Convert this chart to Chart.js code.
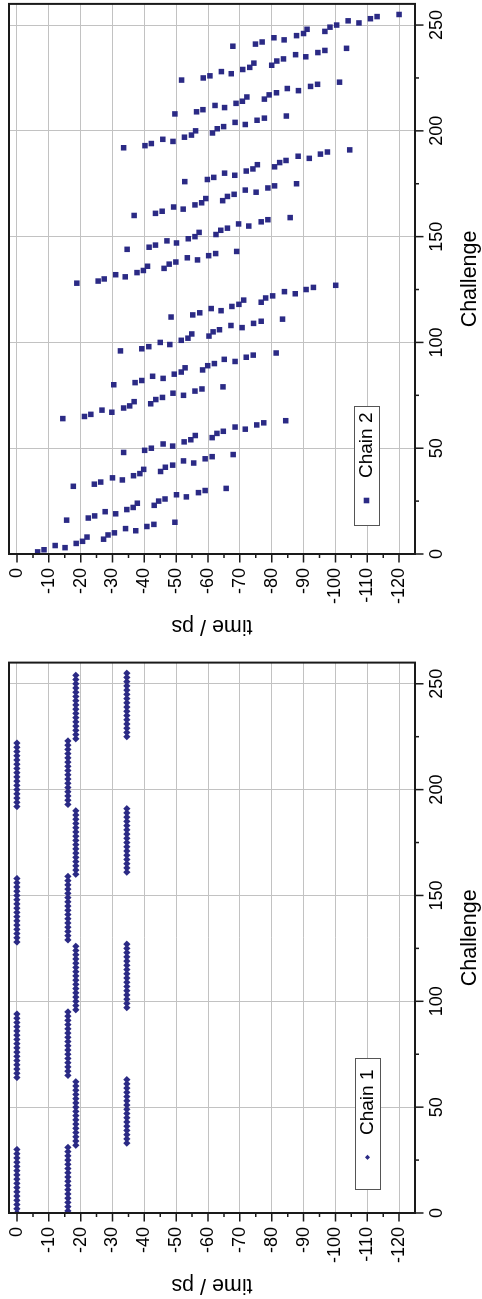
<!DOCTYPE html>
<html>
<head>
<title>Chain timing</title>
<style>
body {
    margin: 0;
    width: 482px;
    height: 1299px;
    overflow: hidden;
    background: #fff;
}
/* each panel is drawn landscape, then turned a quarter turn */
.panel {
    position: absolute;
    left: 0;
    width: 640px;
    height: 482px;
    transform-origin: 0 0;
    transform: rotate(-90deg);
}
.panel canvas {
    width: 640px;
    height: 482px;
}
</style>
</head>
<body>
<script src="https://cdn.jsdelivr.net/npm/chart.js"></script>

<div class="panel" style="top:640px"><canvas id="chain2Chart" width="640" height="482"></canvas></div>
<div class="panel" style="top:1299px"><canvas id="chain1Chart" width="640" height="482"></canvas></div>

<script>
// tick labels
const challengeTicks = [0, 50, 100, 150, 200, 250];
const timeTicks = [0, -10, -20, -30, -40, -50, -60, -70, -80, -90, -100, -110, -120];

// challenge number 0..255
const challenges = [];
for (let c = 0; c < 256; c++) challenges.push(c);

// chain 1: arrival time (ps) per challenge, one row per 32 challenges
const chain1Time = [
    0, -16, 0, -16, 0, -16, 0, -16, 0, -16, 0, -16, 0, -16, 0, -16, 0, -16, 0, -16, 0, -16, 0, -16, 0, -16, 0, -16, 0, -16, 0, -16,
    -18.5, -34.5, -18.5, -34.5, -18.5, -34.5, -18.5, -34.5, -18.5, -34.5, -18.5, -34.5, -18.5, -34.5, -18.5, -34.5, -18.5, -34.5, -18.5, -34.5, -18.5, -34.5, -18.5, -34.5, -18.5, -34.5, -18.5, -34.5, -18.5, -34.5, -18.5, -34.5,
    0, -16, 0, -16, 0, -16, 0, -16, 0, -16, 0, -16, 0, -16, 0, -16, 0, -16, 0, -16, 0, -16, 0, -16, 0, -16, 0, -16, 0, -16, 0, -16,
    -18.5, -34.5, -18.5, -34.5, -18.5, -34.5, -18.5, -34.5, -18.5, -34.5, -18.5, -34.5, -18.5, -34.5, -18.5, -34.5, -18.5, -34.5, -18.5, -34.5, -18.5, -34.5, -18.5, -34.5, -18.5, -34.5, -18.5, -34.5, -18.5, -34.5, -18.5, -34.5,
    0, -16, 0, -16, 0, -16, 0, -16, 0, -16, 0, -16, 0, -16, 0, -16, 0, -16, 0, -16, 0, -16, 0, -16, 0, -16, 0, -16, 0, -16, 0, -16,
    -18.5, -34.5, -18.5, -34.5, -18.5, -34.5, -18.5, -34.5, -18.5, -34.5, -18.5, -34.5, -18.5, -34.5, -18.5, -34.5, -18.5, -34.5, -18.5, -34.5, -18.5, -34.5, -18.5, -34.5, -18.5, -34.5, -18.5, -34.5, -18.5, -34.5, -18.5, -34.5,
    0, -16, 0, -16, 0, -16, 0, -16, 0, -16, 0, -16, 0, -16, 0, -16, 0, -16, 0, -16, 0, -16, 0, -16, 0, -16, 0, -16, 0, -16, 0, -16,
    -18.5, -34.5, -18.5, -34.5, -18.5, -34.5, -18.5, -34.5, -18.5, -34.5, -18.5, -34.5, -18.5, -34.5, -18.5, -34.5, -18.5, -34.5, -18.5, -34.5, -18.5, -34.5, -18.5, -34.5, -18.5, -34.5, -18.5, -34.5, -18.5, -34.5, -18.5, -34.5
];

// chain 2: arrival time (ps) per challenge, one row per 16 challenges (challenge 0 not recorded)
const chain2Time = [
    null, -6.5, -8.5, -15.1, -12.0, -18.6, -20.6, -27.2, -22.0, -28.6, -30.6, -37.3, -34.1, -40.8, -43.0, -49.6,
    -15.6, -22.4, -24.4, -31.0, -27.7, -34.5, -36.5, -43.1, -37.8, -44.5, -46.5, -53.2, -50.1, -57.0, -59.1, -65.7,
    -17.7, -24.3, -26.3, -33.1, -30.0, -36.6, -38.6, -45.1, -39.8, -46.6, -48.9, -55.5, -52.3, -59.1, -61.3, -67.9,
    -33.5, -40.1, -42.2, -48.9, -45.9, -52.5, -54.6, -61.3, -56.0, -62.8, -64.8, -71.7, -68.5, -75.3, -77.5, -84.4,
    -14.4, -21.2, -23.2, -29.8, -26.7, -33.5, -35.4, -42.0, -36.8, -43.6, -45.7, -52.3, -49.0, -55.9, -58.1, -64.7,
    -30.4, -37.1, -39.2, -45.9, -42.6, -49.4, -51.6, -58.3, -52.8, -59.9, -62.0, -68.5, -65.1, -72.0, -74.2, -81.4,
    -32.5, -39.2, -41.4, -48.0, -45.0, -51.6, -53.7, -60.3, -54.9, -61.6, -63.6, -70.7, -67.2, -74.3, -76.7, -83.4,
    -48.4, -55.2, -57.4, -64.1, -61.0, -67.5, -69.7, -76.7, -71.2, -78.1, -80.3, -87.4, -84.0, -90.8, -93.1, -100.1,
    -18.8, -25.5, -27.4, -34.0, -31.0, -37.7, -39.7, -46.2, -41.0, -47.8, -49.9, -56.7, -53.5, -60.2, -62.4, -69.0,
    -34.6, -41.5, -43.5, -50.1, -47.1, -53.8, -55.9, -62.5, -57.2, -64.0, -66.1, -72.8, -69.6, -76.7, -78.8, -85.8,
    -36.8, -43.5, -45.6, -52.2, -49.2, -55.9, -58.0, -64.6, -59.3, -66.1, -68.2, -75.1, -71.7, -78.8, -80.9, -87.8,
    -52.7, -59.8, -61.8, -68.4, -65.2, -72.0, -74.1, -80.9, -75.5, -82.5, -84.5, -91.8, -88.3, -95.3, -97.5, -104.5,
    -33.5, -40.2, -42.2, -49.0, -45.8, -52.6, -54.8, -61.4, -56.1, -62.9, -64.9, -71.7, -68.5, -75.4, -77.7, -84.6,
    -49.6, -56.4, -58.4, -65.2, -62.2, -68.8, -70.8, -77.7, -72.2, -79.2, -81.5, -88.4, -84.9, -92.2, -94.4, -101.3,
    -51.7, -58.5, -60.6, -67.3, -64.2, -70.9, -73.1, -80.0, -74.4, -81.6, -83.7, -90.7, -87.5, -94.5, -96.7, -103.5,
    -67.8, -74.9, -77.0, -83.9, -80.7, -87.8, -90.0, -96.7, -91.1, -98.3, -100.4, -107.4, -104.0, -111.0, -113.1, -120.0
];

const FONT = '"Liberation Sans", Arial, Helvetica, sans-serif';
const MARK = '#2b2a85';
const GRID = '#c2c2c2';

Chart.defaults.font.family = FONT;
Chart.defaults.color = '#000';

function points(times) {
    const out = [];
    times.forEach((t, i) => {
        if (t !== null) out.push({ x: challenges[i], y: t });
    });
    return out;
}

// labelled ticks plus one unlabelled tick half way to the next one
function withMinor(labels, half, last) {
    const vals = [];
    labels.forEach(v => {
        vals.push(v);
        if (v + half !== last + half && Math.abs(v + half) <= Math.abs(last)) vals.push(v + half);
    });
    return vals.sort((a, b) => a - b).map(v => ({ value: v }));
}

// outward tick marks (long on labelled ticks, short in between) and the black frame
const frameTicks = {
    id: 'frameTicks',
    afterDraw(chart) {
        const ctx = chart.ctx, a = chart.chartArea;
        const xs = chart.scales.x, ys = chart.scales.y;
        ctx.save();
        ctx.strokeStyle = '#1a1a1a';
        ctx.lineWidth = 1.5;
        ctx.beginPath();
        xs.ticks.forEach(t => {
            const len = challengeTicks.includes(t.value) ? 8.5 : 4;
            const px = xs.getPixelForValue(t.value);
            ctx.moveTo(px, a.bottom);
            ctx.lineTo(px, a.bottom + len);
        });
        ys.ticks.forEach(t => {
            const len = timeTicks.includes(t.value) ? 8.5 : 4;
            const py = ys.getPixelForValue(t.value);
            ctx.moveTo(a.left, py);
            ctx.lineTo(a.left - len, py);
        });
        ctx.stroke();
        ctx.lineWidth = 2;
        ctx.strokeRect(a.left, a.top, a.right - a.left, a.bottom - a.top);
        ctx.restore();
    }
};

// boxed legend sitting inside the plot
const boxLegend = {
    id: 'boxLegend',
    afterDatasetsDraw(chart, args, o) {
        const ctx = chart.ctx, a = chart.chartArea;
        const ds = chart.data.datasets[0];
        const x = a.left + o.left;
        const y = a.bottom - o.bottom - o.height;
        const cy = y + o.height / 2;
        ctx.save();
        ctx.fillStyle = '#fff';
        ctx.fillRect(x, y, o.width, o.height);
        ctx.strokeStyle = '#555';
        ctx.lineWidth = 1;
        ctx.strokeRect(x + 0.5, y + 0.5, o.width, o.height);
        ctx.fillStyle = ds.pointBackgroundColor;
        const mx = x + o.markerX, r = o.markerSize;
        ctx.beginPath();
        if (ds.pointStyle === 'rectRot') {
            ctx.moveTo(mx - r, cy);
            ctx.lineTo(mx, cy - r);
            ctx.lineTo(mx + r, cy);
            ctx.lineTo(mx, cy + r);
            ctx.closePath();
        } else {
            ctx.rect(mx - r, cy - r, 2 * r, 2 * r);
        }
        ctx.fill();
        ctx.fillStyle = '#000';
        ctx.font = '19px ' + FONT;
        ctx.textBaseline = 'middle';
        ctx.textAlign = 'left';
        ctx.fillText(ds.label, x + o.textX, cy + 0.5);
        ctx.restore();
    }
};

function zeroPad(scale) {
    scale.paddingLeft = 0;
    scale.paddingRight = 0;
    scale.paddingTop = 0;
    scale.paddingBottom = 0;
}

function makeChart(id, label, times, style, radius, legendBox) {
    return new Chart(document.getElementById(id), {
        type: 'scatter',
        data: {
            datasets: [{
                label: label,
                data: points(times),
                pointStyle: style,
                pointRadius: radius,
                pointHoverRadius: radius,
                pointBackgroundColor: MARK,
                pointBorderWidth: 0,
                clip: 0
            }]
        },
        plugins: [boxLegend, frameTicks],
        options: {
            responsive: false,
            devicePixelRatio: 1,
            animation: false,
            events: [],
            layout: { padding: { top: 9, right: 3, left: 0, bottom: 0 } },
            plugins: {
                legend: { display: false },
                tooltip: { enabled: false },
                boxLegend: legendBox
            },
            scales: {
                x: {
                    type: 'linear',
                    min: 0,
                    max: 260,
                    border: { display: false },
                    grid: {
                        drawTicks: false,
                        color: c => (c.tick && c.tick.value > 0 && challengeTicks.includes(c.tick.value)) ? GRID : 'rgba(0,0,0,0)',
                        lineWidth: 1
                    },
                    ticks: {
                        autoSkip: false,
                        maxRotation: 0,
                        padding: 11,
                        font: { size: 18 },
                        callback: v => challengeTicks.includes(v) ? String(v) : ''
                    },
                    afterBuildTicks: s => { s.ticks = withMinor(challengeTicks, 25, 250); },
                    title: {
                        display: true,
                        text: 'Challenge',
                        font: { size: 21.5, lineHeight: 1.1 },
                        padding: { top: 0, bottom: 0 }
                    },
                    afterFit: s => { s.height = 67; zeroPad(s); }
                },
                y: {
                    type: 'linear',
                    min: -125,
                    max: 2.5,
                    border: { display: false },
                    grid: {
                        drawTicks: false,
                        color: c => (c.tick && timeTicks.includes(c.tick.value)) ? GRID : 'rgba(0,0,0,0)',
                        lineWidth: 1
                    },
                    ticks: {
                        autoSkip: false,
                        padding: 14,
                        font: { size: 18 },
                        callback: v => timeTicks.includes(v) ? String(v) : ''
                    },
                    afterBuildTicks: s => { s.ticks = withMinor(timeTicks, -5, -120); },
                    title: {
                        display: true,
                        text: 'time / ps',
                        font: { size: 21.5, lineHeight: 1.1 },
                        padding: { top: 2, bottom: 0 }
                    },
                    afterFit: s => { s.width = 86; zeroPad(s); }
                }
            }
        }
    });
}

makeChart('chain2Chart', 'Chain 2', chain2Time, 'rect', 3.9,
    { left: 28, bottom: 36, width: 119, height: 25, markerX: 25.5, markerSize: 2.8, textX: 48 });
makeChart('chain1Chart', 'Chain 1', chain1Time, 'rectRot', 3.6,
    { left: 23, bottom: 35, width: 131, height: 25, markerX: 32.7, markerSize: 2.6, textX: 55 });
</script>
</body>
</html>
